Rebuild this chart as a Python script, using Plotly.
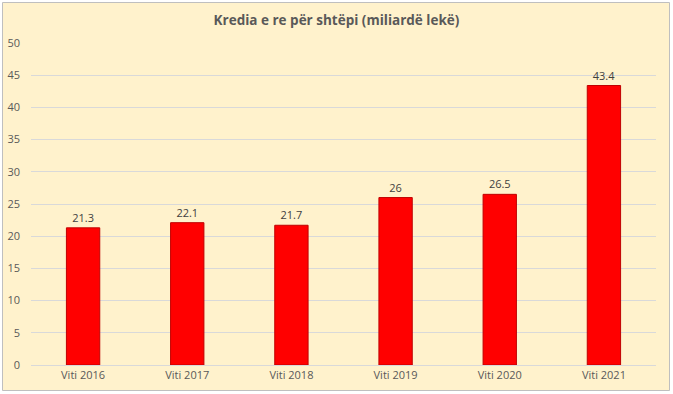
import plotly.graph_objects as go

categories = ["Viti 2016", "Viti 2017", "Viti 2018", "Viti 2019", "Viti 2020", "Viti 2021"]
values = [21.3, 22.1, 21.7, 26, 26.5, 43.4]
labels = ["21.3", "22.1", "21.7", "26", "26.5", "43.4"]
y_ticks = [0, 5, 10, 15, 20, 25, 30, 35, 40, 45, 50]

W, H = 673, 394
L, R, T, B = 31, 17, 43, 29
pw, ph = W - L - R, H - T - B

fig = go.Figure(go.Bar(
    x=categories, y=values, text=labels, textposition="outside",
    textfont=dict(size=11, color="#404040", family="Open Sans, Arial"),
    marker=dict(color="#FF0000", line=dict(color="#C00000", width=1)),
    cliponaxis=False,
))

def px_x(p):
    return (p - L) / pw

def px_y(p):
    return (H - B - p) / ph

fig.add_shape(type="rect", xref="paper", yref="paper", layer="below",
              x0=px_x(2.5), x1=px_x(669.5), y0=px_y(390.5), y1=px_y(2.5),
              fillcolor="#FFF2CC", line=dict(color="#BFBFBF", width=1))

fig.update_layout(
    width=W, height=H,
    margin=dict(l=L, r=R, t=T, b=B, pad=0, autoexpand=False),
    paper_bgcolor="white", plot_bgcolor="rgba(0,0,0,0)",
    bargap=0.68,
    showlegend=False,
    title=dict(text="<b>Kredia e re për shtëpi (miliardë lekë)</b>", x=0.5, xanchor="center",
               y=1 - 20 / H, yanchor="middle",
               font=dict(size=13.5, color="#595959", family="Open Sans, Arial")),
    font=dict(family="Open Sans, Arial", size=11, color="#595959"),
    xaxis=dict(showgrid=False, showline=True, linecolor="#D9D9D9", ticks="", automargin=False,
               tickfont=dict(size=11, color="#595959")),
    yaxis=dict(range=[0, 50], tickvals=y_ticks, showgrid=True, gridcolor="#D9D9D9",
               zeroline=False, showline=False, ticks="", ticklabelstandoff=10, automargin=False,
               tickfont=dict(size=11, color="#595959")),
)

fig.write_html("out.html", config={"displayModeBar": False},
               post_script="document.body.style.margin='0';document.body.style.overflow='hidden';")
